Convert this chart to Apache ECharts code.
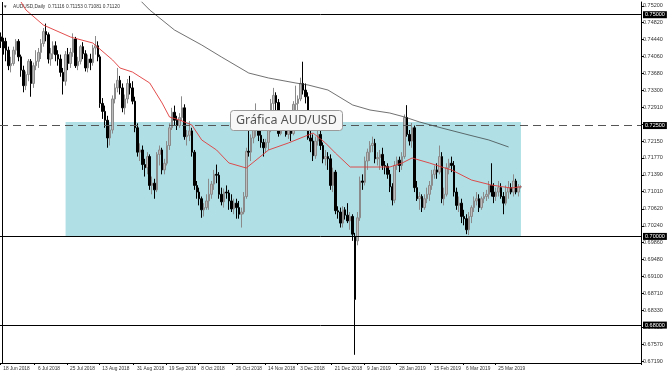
<!DOCTYPE html>
<html><head><meta charset="utf-8">
<script src="https://cdn.jsdelivr.net/npm/echarts@6/dist/echarts.min.js"></script>
<style>html,body{margin:0;padding:0;background:#fff}#c{width:671px;height:375px}</style>
</head><body><div id="c"></div>
<script>
// ---- data ----
const startDate = '2018-06-18';
const categoryCount = 259;
const xTickLabels = ['18 Jun 2018','6 Jul 2018','25 Jul 2018','13 Aug 2018','31 Aug 2018','19 Sep 2018','8 Oct 2018','26 Oct 2018','14 Nov 2018','3 Dec 2018','21 Dec 2018','9 Jan 2019','28 Jan 2019','15 Feb 2019','6 Mar 2019','25 Mar 2019'];
const yTickLabels = [0.67190,0.67570,0.67950,0.68330,0.68710,0.69100,0.69480,0.69860,0.70240,0.70620,0.71010,0.71390,0.71770,0.72150,0.72530,0.72910,0.73300,0.73680,0.74060,0.74440,0.74820,0.75200];
// candles: [open, close, low, high] in 1/10000
const candles = [
[7450,7440,7425,7460],[7440,7425,7410,7448],
[7440,7420,7395,7448],[7420,7385,7375,7428],[7385,7390,7370,7405],[7390,7420,7385,7428],[7420,7440,7410,7445],
[7440,7405,7395,7445],[7405,7375,7360,7410],[7375,7340,7325,7385],[7340,7365,7330,7372],[7365,7395,7350,7400],
[7395,7345,7315,7400],[7345,7385,7335,7392],[7385,7395,7375,7420],[7395,7415,7380,7425],[7415,7435,7400,7445],
[7435,7462,7428,7470],[7462,7455,7440,7480],[7455,7400,7390,7460],[7400,7412,7385,7425],[7412,7430,7400,7440],
[7430,7410,7395,7440],[7410,7400,7385,7420],[7400,7370,7360,7410],[7370,7350,7320,7380],[7350,7410,7340,7418],
[7410,7390,7375,7425],[7390,7415,7380,7425],[7415,7445,7405,7458],[7445,7385,7380,7450],[7385,7395,7375,7405],
[7395,7428,7388,7432],[7428,7412,7400,7438],[7412,7380,7372,7420],[7380,7400,7370,7410],[7400,7392,7375,7412],
[7392,7425,7385,7432],[7425,7430,7410,7452],[7430,7405,7395,7440],[7405,7300,7290,7410],[7300,7282,7265,7312],
[7282,7262,7245,7295],[7262,7222,7200,7272],[7222,7240,7205,7250],[7240,7310,7232,7318],[7310,7335,7300,7345],
[7335,7352,7325,7380],[7352,7335,7320,7362],[7335,7290,7280,7345],[7290,7310,7275,7320],[7310,7345,7300,7355],
[7345,7335,7320,7362],[7335,7305,7298,7350],[7305,7245,7235,7315],[7245,7190,7180,7255],[7190,7195,7170,7210],
[7195,7162,7150,7205],[7162,7155,7135,7175],[7155,7180,7140,7190],[7180,7115,7105,7185],[7115,7120,7095,7135],
[7120,7105,7085,7130],[7105,7185,7100,7190],[7185,7195,7160,7205],[7195,7150,7140,7200],[7150,7165,7140,7175],
[7165,7205,7160,7215],[7205,7245,7195,7255],[7245,7280,7240,7290],[7280,7262,7250,7295],[7262,7250,7240,7272],
[7250,7268,7245,7278],[7268,7290,7260,7316],[7290,7225,7218,7298],[7225,7228,7205,7240],[7228,7238,7215,7260],
[7238,7190,7180,7245],[7190,7115,7105,7195],[7115,7100,7085,7125],[7100,7085,7070,7110],[7085,7060,7042,7090],
[7060,7065,7045,7075],[7065,7080,7060,7095],[7080,7095,7060,7130],[7095,7118,7085,7125],[7118,7140,7105,7150],
[7140,7138,7120,7162],[7138,7095,7085,7145],[7095,7078,7070,7110],[7078,7100,7065,7108],[7100,7098,7085,7115],
[7098,7080,7060,7105],[7080,7062,7055,7095],[7062,7075,7050,7085],[7075,7065,7040,7085],[7065,7050,7040,7080],
[7050,7055,7020,7065],[7055,7090,7050,7100],[7090,7192,7085,7200],[7192,7190,7180,7258],[7190,7222,7170,7230],
[7222,7245,7210,7255],[7245,7262,7225,7300],[7262,7228,7215,7275],[7228,7212,7200,7240],[7212,7200,7180,7220],
[7200,7212,7188,7220],[7212,7245,7195,7255],[7245,7300,7235,7310],[7300,7318,7285,7335],[7318,7302,7285,7325],
[7302,7232,7225,7310],[7232,7265,7228,7272],[7265,7258,7245,7275],[7258,7230,7225,7265],[7230,7240,7220,7250],
[7240,7232,7215,7250],[7232,7298,7228,7305],[7298,7300,7285,7340],[7300,7310,7285,7318],[7310,7345,7305,7358],
[7345,7330,7320,7394],[7330,7315,7300,7345],[7315,7222,7218,7325],[7222,7215,7190,7240],[7215,7182,7170,7230],
[7182,7215,7175,7225],[7215,7230,7205,7240],[7230,7205,7195,7245],[7205,7175,7165,7212],[7175,7180,7160,7195],
[7180,7175,7150,7190],[7175,7115,7105,7185],[7115,7145,7100,7155],[7145,7058,7050,7150],[7058,7055,7040,7068],
[7055,7030,7020,7065],[7030,7060,7020,7068],[7060,7048,7038,7066],[7048,7035,7030,7075],[7035,7045,7015,7055],
[7045,7005,6990,7050],[7000,6858,6733,7008],[6990,7042,6980,7055],[7042,7125,7035,7135],[7125,7122,7105,7140],
[7122,7170,7115,7180],[7170,7190,7150,7198],[7190,7205,7170,7215],[7205,7210,7190,7225],[7210,7175,7165,7220],
[7175,7178,7160,7190],[7178,7185,7150,7195],[7185,7160,7150,7200],[7160,7158,7140,7170],[7158,7140,7130,7165],
[7140,7112,7100,7150],[7112,7082,7070,7120],[7082,7160,7075,7170],[7160,7172,7150,7180],[7172,7160,7145,7180],
[7160,7180,7150,7190],[7180,7268,7175,7275],[7268,7230,7225,7296],[7230,7215,7205,7240],[7215,7245,7200,7256],
[7245,7110,7100,7250],[7110,7085,7080,7125],[7085,7090,7060,7100],[7090,7065,7055,7095],[7065,7085,7060,7095],
[7085,7095,7075,7110],[7095,7115,7080,7125],[7115,7140,7105,7150],[7140,7150,7130,7160],[7150,7145,7130,7165],
[7145,7180,7140,7205],[7180,7085,7075,7190],[7085,7095,7070,7110],[7095,7155,7090,7165],[7155,7165,7140,7175],
[7165,7160,7145,7180],[7160,7100,7090,7170],[7100,7070,7060,7110],[7070,7075,7055,7090],[7075,7045,7030,7085],
[7045,7040,7025,7060],[7040,7015,7005,7050],[7015,7045,7003,7055],[7045,7065,7030,7070],[7065,7080,7055,7090],
[7080,7085,7070,7100],[7085,7065,7055,7095],[7065,7085,7060,7090],[7085,7090,7075,7100],[7090,7095,7080,7105],
[7095,7115,7085,7125],[7115,7100,7090,7165],[7100,7090,7075,7120],[7090,7100,7080,7110],[7100,7110,7090,7125],
[7110,7090,7085,7120],[7090,7075,7050,7100],[7075,7100,7070,7115],[7100,7110,7085,7125],[7110,7100,7095,7120],
[7100,7125,7090,7140],[7125,7100,7095,7130],[7100,7112,7090,7118],[7111.6,7112.0,7108.1,7115.3]
];
// moving averages: [bar index, price]
const redMA = [[8,0.75287],[10,0.75106],[17,0.74768],[28,0.74497],[37,0.74362],[45,0.73979],[48,0.73798],[53,0.73708],[60,0.73460],[65,0.73009],[68,0.72693],[72,0.72626],[77,0.72513],[81,0.72175],[87,0.71949],[92,0.71656],[99,0.71543],[108,0.71949],[116,0.72107],[122,0.72242],[126,0.72332],[131,0.72107],[135,0.71881],[141,0.71565],[151,0.71565],[157,0.71565],[162,0.71656],[166,0.71769],[173,0.71656],[178,0.71565],[182,0.71498],[190,0.71272],[198,0.71159],[206,0.71091],[210,0.71120]];
const blackMA = [[56,0.75332],[60,0.75106],[70,0.74655],[81,0.74317],[89,0.74046],[100,0.73685],[108,0.73573],[119,0.73460],[124,0.73415],[132,0.73302],[142,0.72964],[149,0.72851],[157,0.72783],[163,0.72693],[169,0.72581],[178,0.72445],[189,0.72287],[197,0.72175],[205,0.72017]];
const solidLevels = [0.75000, 0.70000, 0.68000];
const dashedLevel = 0.72500;
const currentPrice = 0.71120;
const zoneTop = 0.7258, zoneBottom = 0.7000, zoneStartBar = 26, zoneEndBar = 210;
const chartTitle = 'AUDUSD,Daily  0.71116 0.71153 0.71081 0.71120';
const noteText = 'Gráfica AUD/USD';

// ---- build ----
const mon = ['Jan','Feb','Mar','Apr','May','Jun','Jul','Aug','Sep','Oct','Nov','Dec'];
const categories = [];
{
  let d = new Date(startDate + 'T00:00:00Z');
  while (categories.length < categoryCount) {
    const wd = d.getUTCDay();
    if (wd !== 0 && wd !== 6) categories.push(d.getUTCDate() + ' ' + mon[d.getUTCMonth()] + ' ' + d.getUTCFullYear());
    d = new Date(d.getTime() + 86400000);
  }
}
const sparse = (pts) => { const a = new Array(categoryCount).fill(null); pts.forEach(p => { a[p[0]] = p[1]; }); return a; };
const ohlc = candles.map(c => c.map(v => v / 10000));
const isTick = (idx, val) => xTickLabels.indexOf(val) >= 0;
const FONT = 'Liberation Sans';
const tagLabel = {show: true, position: 'end', distance: 2, formatter: p => Number(p.value).toFixed(5), backgroundColor: '#000', color: '#fff', fontSize: 5.5, fontFamily: FONT, padding: [1, 2, 0, 2]};
const levelLine = (v, style) => ({
  type: 'line', data: new Array(categoryCount).fill(null), z: 5, silent: true,
  markLine: {silent: true, precision: 5, symbol: ['none', 'none'], animation: false, label: tagLabel, lineStyle: style, data: [{yAxis: v}]}
});

const chart = echarts.init(document.getElementById('c'), null, {renderer: 'canvas'});
chart.setOption({
  animation: false,
  backgroundColor: '#ffffff',
  title: {
    text: noteText, left: 230, top: 110, padding: [4, 6, 4, 6],
    backgroundColor: '#f7f7f7', borderColor: '#9a9a9a', borderWidth: 1, borderRadius: 3,
    textStyle: {fontSize: 12.5, fontWeight: 'normal', color: '#555', fontFamily: 'Noto Sans'}
  },
  graphic: [
    {type: 'text', left: 3, top: 4, style: {text: '▼', fontSize: 4.5, fill: '#333'}},
    {type: 'text', left: 13, top: 4, style: {text: chartTitle, fontSize: 4.8, fontFamily: FONT, fill: '#333'}},
    {type: 'line', shape: {x1: 2.5, y1: 2, x2: 2.5, y2: 363}, style: {stroke: '#000', lineWidth: 1}}
  ],
  grid: {left: -4, right: 30, top: 2, bottom: 12},
  xAxis: {
    type: 'category', data: categories, boundaryGap: true,
    axisLine: {lineStyle: {color: '#000', width: 1}},
    axisTick: {show: true, interval: isTick, length: 2, lineStyle: {color: '#000'}},
    axisLabel: {interval: isTick, showMinLabel: true, hideOverlap: false, align: 'left', margin: 3, padding: [0, 0, 0, 2], fontSize: 4.8, fontFamily: FONT, color: '#333'},
    splitLine: {show: false}
  },
  yAxis: {
    type: 'value', position: 'right', min: 0.671452, max: 0.752868, scale: true,
    axisLine: {show: true, lineStyle: {color: '#000', width: 1}},
    axisTick: {show: true, length: 3, customValues: yTickLabels, lineStyle: {color: '#000'}},
    axisLabel: {customValues: yTickLabels, margin: 2, formatter: v => v.toFixed(5), fontSize: 5.5, fontFamily: FONT, color: '#333'},
    splitLine: {show: false}
  },
  series: [
    {
      type: 'line', data: new Array(categoryCount).fill(null), z: 1, silent: true,
      markArea: {silent: true, itemStyle: {color: '#b0e0e6', opacity: 1},
        data: [[{xAxis: zoneStartBar, yAxis: zoneTop}, {xAxis: zoneEndBar, yAxis: zoneBottom}]]}
    },
    {
      type: 'candlestick', data: ohlc, z: 3, barWidth: 2,
      itemStyle: {color: '#bdbdbd', borderColor: '#8a8a8a', color0: '#000', borderColor0: '#000', borderWidth: 1}
    },
    {type: 'line', data: sparse(redMA), connectNulls: true, showSymbol: false, z: 4, lineStyle: {color: '#e03a3a', width: 0.9}},
    {type: 'line', data: sparse(blackMA), connectNulls: true, showSymbol: false, z: 4, lineStyle: {color: '#333', width: 0.7}},
    levelLine(solidLevels[0], {color: '#000', width: 1, type: 'solid'}),
    levelLine(dashedLevel, {color: '#555', width: 1, type: [8, 5]}),
    levelLine(solidLevels[1], {color: '#000', width: 1, type: 'solid'}),
    levelLine(solidLevels[2], {color: '#000', width: 1, type: 'solid'}),
    levelLine(currentPrice, {color: '#000', width: 1, opacity: 0})
  ]
});
</script></body></html>
